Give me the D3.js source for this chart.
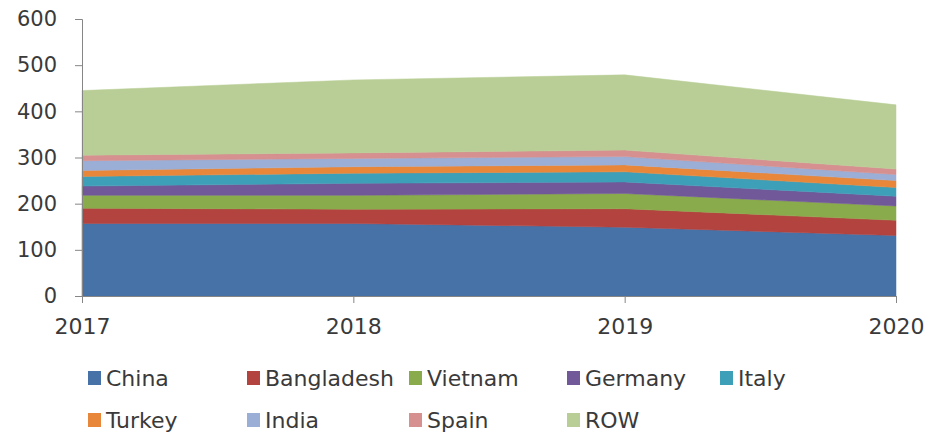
<!DOCTYPE html>
<html>
<head>
<meta charset="utf-8">
<script src="https://cdn.jsdelivr.net/npm/d3@7"></script>
<style>
  html, body { margin: 0; padding: 0; background: #ffffff; }
  svg { display: block; }
  text { font-family: "DejaVu Sans", sans-serif; fill: #3a3a3a; }
</style>
</head>
<body>
<svg id="chart" width="925" height="435"></svg>
<script>
// Years on the category axis
const years = ["2017", "2018", "2019", "2020"];

// Stacked series, bottom to top
const countries = ["China", "Bangladesh", "Vietnam", "Germany", "Italy", "Turkey", "India", "Spain", "ROW"];
const china      = [157, 157, 149, 131];
const bangladesh = [33, 31, 40, 33];
const vietnam    = [28, 30, 33, 31];
const germany    = [20, 26, 25, 21];
const italy      = [21, 22, 22, 19];
const turkey     = [13, 14, 15, 15];
const india      = [21, 18, 18, 13];
const spain      = [12, 12, 14, 12];
const row        = [140, 158, 163, 139];

const yTicks = [0, 100, 200, 300, 400, 500, 600];

const colors = ["#4672a8", "#b3433f", "#8aab4c", "#715898", "#3ea0b8", "#e8873a", "#9aaed6", "#d5908f", "#b9ce96"];

const seriesValues = [china, bangladesh, vietnam, germany, italy, turkey, india, spain, row];
const table = years.map((yr, i) => {
  const rec = { year: yr };
  countries.forEach((c, k) => { rec[c] = seriesValues[k][i]; });
  return rec;
});

const svg = d3.select("#chart");
const plotLeft = 82, plotRight = 896, plotTop = 19, plotBottom = 296;

const x = d3.scalePoint().domain(years).range([plotLeft, plotRight]);
const y = d3.scaleLinear().domain([0, 600]).range([plotBottom, plotTop]);

const layers = d3.stack().keys(countries)(table);

const area = d3.area()
  .x(d => x(d.data.year))
  .y0(d => y(d[0]))
  .y1(d => y(d[1]));

svg.append("g")
  .selectAll("path")
  .data(layers)
  .join("path")
  .attr("d", area)
  .attr("fill", (d, i) => colors[i])
  .attr("stroke", (d, i) => colors[i])
  .attr("stroke-width", 0.5);

// Value axis
const yAxis = svg.append("g")
  .attr("transform", `translate(${plotLeft},0)`)
  .call(d3.axisLeft(y).tickValues(yTicks).tickSize(7).tickPadding(18).tickFormat(d3.format("d")));
yAxis.select(".domain").attr("stroke", "#868686");
yAxis.selectAll(".tick line").attr("stroke", "#868686");
yAxis.selectAll(".tick text")
  .style("font-family", "'DejaVu Sans', sans-serif")
  .style("font-size", "21px")
  .attr("fill", "#3a3a3a");

// Category axis
const xAxis = svg.append("g")
  .attr("transform", `translate(0,${plotBottom})`)
  .call(d3.axisBottom(x).tickSize(7).tickPadding(15).tickSizeOuter(0));
xAxis.select(".domain").attr("stroke", "#868686");
xAxis.selectAll(".tick line").attr("stroke", "#868686");
xAxis.selectAll(".tick text")
  .style("font-family", "'DejaVu Sans', sans-serif")
  .style("font-size", "22px")
  .attr("fill", "#3a3a3a");

// Legend: two rows of swatches with labels
const legendX = [88, 247, 409, 567, 720];
const legendY = [378, 420];
const legend = svg.append("g");
countries.forEach((c, i) => {
  const col = i % 5, r = Math.floor(i / 5);
  const g = legend.append("g")
    .attr("transform", `translate(${legendX[col]},${legendY[r]})`);
  g.append("rect")
    .attr("x", 0).attr("y", -7)
    .attr("width", 13).attr("height", 14)
    .attr("fill", colors[i]);
  g.append("text")
    .attr("x", 18).attr("y", 0)
    .attr("dy", "0.35em")
    .style("font-size", "22px")
    .text(c);
});
</script>
</body>
</html>
